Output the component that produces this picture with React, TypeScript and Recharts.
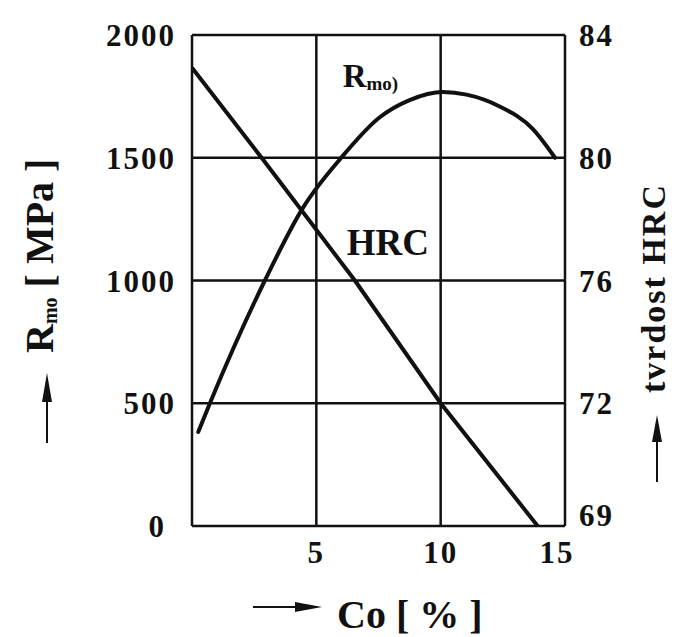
import React from 'react';
import { CartesianGrid, LineChart, Line, ReferenceDot, XAxis, YAxis } from 'recharts';

// Co content [%] vs. bending strength Rmo [MPa]
const CO_RMO = [0.25, 0.72, 2.93, 4.46, 6.0, 7.55, 8.75, 10.1, 11.04, 12.35, 13.7, 14.6];
const RMO = [383, 500, 1000, 1296, 1500, 1665, 1735, 1768, 1757, 1710, 1618, 1500];

// Co content [%] vs. hardness HRC
const CO_HRC = [0, 2.8, 6.55, 10.0, 13.9];
const HRC = [82.93, 80, 76, 72, 69];

const CO_TICKS = [0, 5, 10, 15];
const RMO_TICKS = [0, 500, 1000, 1500, 2000];
const HRC_TICKS = [69, 72, 76, 80, 84];

const FONT = '"Liberation Serif", "Times New Roman", serif';

// the HRC scale is not linear: each HRC tick sits on an Rmo grid line
function hrcToRmo(h: number) {
  for (let i = 0; i < HRC_TICKS.length - 1; i++) {
    const a = HRC_TICKS[i];
    const b = HRC_TICKS[i + 1];
    if (h <= b || i === HRC_TICKS.length - 2) {
      return RMO_TICKS[i] + ((h - a) / (b - a)) * (RMO_TICKS[i + 1] - RMO_TICKS[i]);
    }
  }
  return 0;
}

const rmoData = CO_RMO.map((co, i) => ({ co, rmo: RMO[i] }));
const hrcData = CO_HRC.map((co, i) => ({ co, hrc: hrcToRmo(HRC[i]) }));

const tickText = {
  fontFamily: FONT,
  fontWeight: 700,
  fontSize: 31,
  letterSpacing: 2,
  fill: '#111',
};

function CoTick(props: any) {
  const { x, y, payload } = props;
  if (payload.value === 0) return null;
  const dx = payload.value === 15 ? -8 : 0;
  return (
    <text x={x + dx} y={y + 35} textAnchor="middle" style={tickText}>
      {payload.value}
    </text>
  );
}

function RmoTick(props: any) {
  const { x, y, payload } = props;
  const dx = payload.value === 0 ? -10 : 0;
  return (
    <text x={x + dx} y={y + 11} textAnchor="end" style={tickText}>
      {payload.value}
    </text>
  );
}

function HrcTick(props: any) {
  const { x, y, index } = props;
  const dy = index === 0 ? -11 : 0;
  return (
    <text x={x} y={y + 11 + dy} textAnchor="start" style={tickText}>
      {HRC_TICKS[index]}
    </text>
  );
}

function LeftTitle() {
  return (
    <g>
      <line x1={47} y1={443} x2={47} y2={392} stroke="#111" strokeWidth={2} />
      <polygon points="47,373 42,402 52,402" fill="#111" />
      <text transform="rotate(-90, 53, 353)" x={53} y={353} style={{ fontFamily: FONT, fontWeight: 700, fill: '#111' }}>
        <tspan fontSize={40}>R</tspan>
        <tspan fontSize={20} dy={4}>mo</tspan>
        <tspan fontSize={40} dy={-4}>{'   [ MPa ]'}</tspan>
      </text>
    </g>
  );
}

function RightTitle() {
  return (
    <g>
      <line x1={657} y1={482} x2={657} y2={435} stroke="#111" strokeWidth={2} />
      <polygon points="657,415 652,442 662,442" fill="#111" />
      <text
        transform="rotate(-90, 665, 393)"
        x={665}
        y={393}
        style={{ fontFamily: FONT, fontWeight: 700, fontSize: 34, letterSpacing: 2, fill: '#111' }}
      >
        tvrdost HRC
      </text>
    </g>
  );
}

function BottomTitle() {
  return (
    <g>
      <line x1={253} y1={607} x2={300} y2={607} stroke="#111" strokeWidth={2} />
      <polygon points="322,607 295,602 295,612" fill="#111" />
      <text x={337} y={628} style={{ fontFamily: FONT, fontWeight: 700, fontSize: 40, fill: '#111' }}>
        {'Co  [ % ]'}
      </text>
    </g>
  );
}

function RmoLabel(props: any) {
  const { x, y } = props.viewBox;
  return (
    <text x={x} y={y} style={{ fontFamily: FONT, fontWeight: 700, fill: '#111' }}>
      <tspan fontSize={33}>R</tspan>
      <tspan fontSize={19} dy={3}>mo)</tspan>
    </text>
  );
}

function HrcLabel(props: any) {
  const { x, y } = props.viewBox;
  return (
    <text x={x} y={y} style={{ fontFamily: FONT, fontWeight: 700, fontSize: 37, fill: '#111' }}>
      HRC
    </text>
  );
}

export default function App() {
  return (
    <div style={{ position: 'absolute', left: 0, top: 0, width: 675, height: 637, background: '#fff' }}>
      <LineChart width={675} height={637} margin={{ top: 35, right: 10, bottom: 51, left: 92 }}>
        <CartesianGrid stroke="#111" strokeWidth={2.5} />
        <XAxis
          type="number"
          dataKey="co"
          domain={[0, 15]}
          ticks={CO_TICKS}
          allowDataOverflow
          height={60}
          axisLine={false}
          tickLine={false}
          tickSize={0}
          tick={<CoTick />}
          label={{ content: () => <BottomTitle /> }}
        />
        <YAxis
          type="number"
          domain={[0, 2000]}
          ticks={RMO_TICKS}
          width={100}
          axisLine={false}
          tickLine={false}
          tickSize={0}
          tickMargin={16}
          tick={<RmoTick />}
          label={{ content: () => <LeftTitle /> }}
        />
        <YAxis
          yAxisId="hrc"
          orientation="right"
          type="number"
          domain={[0, 2000]}
          ticks={RMO_TICKS}
          width={100}
          axisLine={false}
          tickLine={false}
          tickSize={0}
          tickMargin={14}
          tick={<HrcTick />}
          label={{ content: () => <RightTitle /> }}
        />
        <Line
          data={rmoData}
          dataKey="rmo"
          type="monotone"
          stroke="#111"
          strokeWidth={4}
          strokeLinecap="round"
          dot={false}
          isAnimationActive={false}
        />
        <Line
          data={hrcData}
          dataKey="hrc"
          yAxisId="hrc"
          type="linear"
          stroke="#111"
          strokeWidth={4}
          dot={false}
          isAnimationActive={false}
        />
        <ReferenceDot x={6.06} y={1789} r={0} stroke="none" label={<RmoLabel />} />
        <ReferenceDot x={6.22} y={1104} r={0} stroke="none" label={<HrcLabel />} />
      </LineChart>
    </div>
  );
}
